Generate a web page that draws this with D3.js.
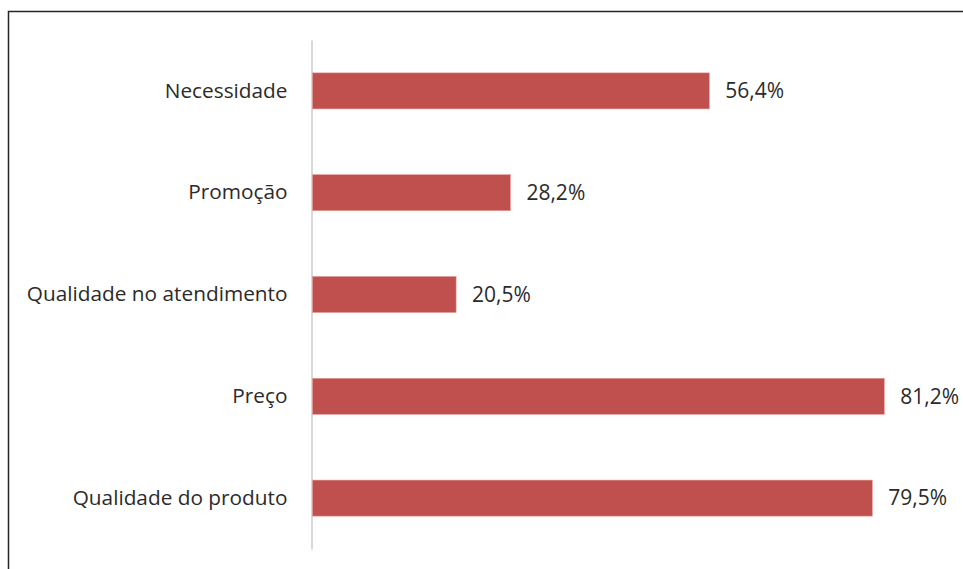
<!DOCTYPE html>
<html>
<head>
<meta charset="utf-8">
<script src="https://cdn.jsdelivr.net/npm/d3@7"></script>
<style>
  html, body { margin: 0; padding: 0; background: #fff; }
  svg { display: block; }
</style>
</head>
<body>
<svg id="chart" width="963" height="569"></svg>
<script>
// Motivos de compra, em percentual de respondentes
const categories = ["Necessidade", "Promoção", "Qualidade no atendimento", "Preço", "Qualidade do produto"];
const values = [56.4, 28.2, 20.5, 81.2, 79.5];
const valueLabels = ["56,4%", "28,2%", "20,5%", "81,2%", "79,5%"];

const svg = d3.select("#chart");
const W = 963, H = 569;
const font = "'Open Sans', 'Noto Sans', sans-serif";

// outer frame (open on the right and bottom)
svg.append("path")
  .attr("d", `M8.5,${H} V11.5 H${W}`)
  .attr("fill", "none")
  .attr("stroke", "#262626")
  .attr("stroke-width", 1.5);

const x0 = 311.5;
const x = d3.scaleLinear().domain([0, 100]).range([x0, x0 + 705.4]);
const y = d3.scaleBand().domain(categories).range([40, 549]).paddingInner(0.646).paddingOuter(0.323);

// category axis
const yAxis = d3.axisLeft(y).tickSize(0).tickPadding(24);
const gAxis = svg.append("g").attr("transform", `translate(${x0},0)`).call(yAxis);
gAxis.select(".domain").attr("stroke", "#d9d9d9").attr("stroke-width", 2);
gAxis.selectAll("text")
  .attr("font-family", font)
  .attr("font-size", 20.8)
  .attr("fill", "#2b2b2b");

// bars
svg.append("g").selectAll("rect")
  .data(categories)
  .join("rect")
  .attr("x", x(0) + 1)
  .attr("y", d => y(d))
  .attr("width", (d, i) => x(values[i]) - x(0) - 1)
  .attr("height", y.bandwidth())
  .attr("fill", "#c0504d")
  .attr("stroke", "#e39a98")
  .attr("stroke-width", 0.6);

// value labels
svg.append("g").selectAll("text")
  .data(categories)
  .join("text")
  .attr("x", (d, i) => x(values[i]) + 16)
  .attr("y", d => y(d) + y.bandwidth() / 2)
  .attr("dy", "0.35em")
  .attr("font-family", font)
  .attr("font-size", 21)
  .attr("fill", "#2b2b2b")
  .text((d, i) => valueLabels[i]);
</script>
</body>
</html>
